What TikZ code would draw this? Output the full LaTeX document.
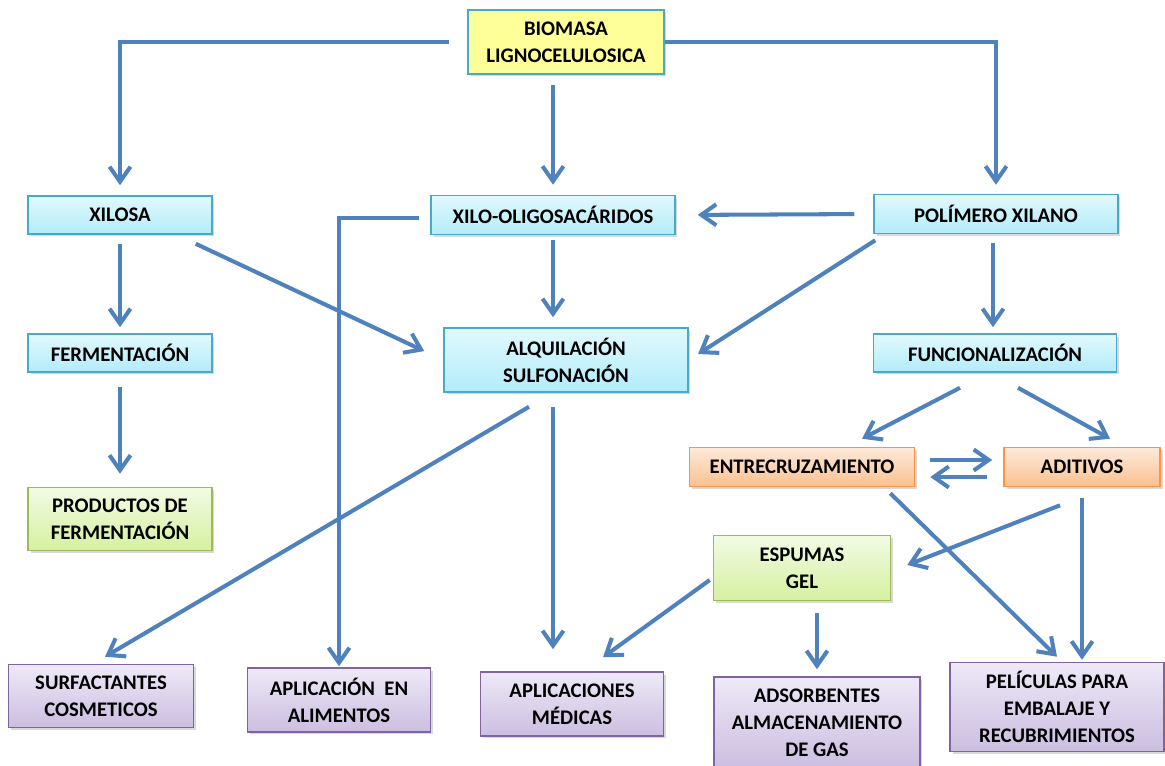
\documentclass[tikz,border=0pt]{standalone}
\usepackage{fontspec}
\setmainfont{Carlito}
\usepackage{tikz}
\usetikzlibrary{arrows.meta, calc, shadows}
\definecolor{arrowblue}{RGB}{79,129,189}
\definecolor{cyanline}{RGB}{70,170,200}
\definecolor{greenline}{RGB}{155,187,89}
\definecolor{orangeline}{RGB}{247,150,70}
\definecolor{purpleline}{RGB}{128,100,162}
\tikzstyle{block} = [rectangle, align=center, inner sep=0pt, line width=0.9pt,
    font=\bfseries\fontsize{11.8}{15.5}\selectfont, text=black,
    drop shadow={shadow xshift=0.05cm, shadow yshift=-0.05cm, opacity=0.3}]
\tikzstyle{rootblock} = [block, draw=cyanline, fill={rgb,255:red,255;green,255;blue,153}]
\tikzstyle{cyanblock} = [block, draw=cyanline, top color={rgb,255:red,225;green,249;blue,253},
    bottom color={rgb,255:red,178;green,236;blue,250}]
\tikzstyle{greenblock} = [block, draw=greenline, top color={rgb,255:red,242;green,251;blue,228},
    bottom color={rgb,255:red,214;green,240;blue,160}]
\tikzstyle{orangeblock} = [block, draw=orangeline, top color={rgb,255:red,253;green,234;blue,218},
    bottom color={rgb,255:red,250;green,192;blue,143}]
\tikzstyle{purpleblock} = [block, draw=purpleline, top color={rgb,255:red,238;green,233;blue,247},
    bottom color={rgb,255:red,204;green,190;blue,224}]
\tikzstyle{arrow} = [line width=2.3pt, draw=arrowblue,
    -{Straight Barb[length=0.3cm, width=0.42cm, line width=2.3pt]}]

\begin{document}
\begin{tikzpicture}[x=0.02cm, y=-0.02cm]
  \useasboundingbox (0,0) rectangle (1165,766);

  % Top
  \node[rootblock, minimum width=3.92cm, minimum height=1.28cm] (bio) at (566,42)
    {BIOMASA\\LIGNOCELULOSICA};

  % Second row
  \node[cyanblock, minimum width=3.68cm, minimum height=0.76cm] (xil) at (120,215) {XILOSA};
  \node[cyanblock, minimum width=4.88cm, minimum height=0.78cm] (xilo) at (553,215)
    {XILO-OLIGOSACÁRIDOS};
  \node[cyanblock, minimum width=4.88cm, minimum height=0.78cm] (pol) at (996,214)
    {POLÍMERO XILANO};

  % Third row
  \node[cyanblock, minimum width=3.68cm, minimum height=0.76cm] (ferm) at (120,353)
    {FERMENTACIÓN};
  \node[cyanblock, minimum width=4.88cm, minimum height=1.28cm] (alq) at (566,360)
    {ALQUILACIÓN\\SULFONACIÓN};
  \node[cyanblock, minimum width=4.86cm, minimum height=0.76cm] (func) at (995,353)
    {FUNCIONALIZACIÓN};

  % Intermediate
  \node[greenblock, minimum width=3.68cm, minimum height=1.26cm] (prod) at (120,519)
    {PRODUCTOS\ DE\\FERMENTACIÓN};
  \node[orangeblock, minimum width=4.5cm, minimum height=0.78cm] (entre) at (802,467)
    {ENTRECRUZAMIENTO};
  \node[orangeblock, minimum width=3.12cm, minimum height=0.78cm] (adit) at (1082,467)
    {ADITIVOS};
  \node[greenblock, minimum width=3.54cm, minimum height=1.3cm] (esp) at (802,568)
    {ESPUMAS\\GEL};

  % Applications
  \node[purpleblock, minimum width=3.7cm, minimum height=1.26cm] (surf) at (101,696)
    {SURFACTANTES\\COSMETICOS};
  \node[purpleblock, minimum width=3.66cm, minimum height=1.28cm] (ali) at (339,700)
    {APLICACIÓN\ \ EN\\ALIMENTOS};
  \node[purpleblock, minimum width=3.66cm, minimum height=1.28cm] (med) at (572,704)
    {APLICACIONES\\MÉDICAS};
  \node[purpleblock, minimum width=4.12cm, minimum height=1.82cm] (ads) at (817,722.5)
    {ADSORBENTES\\ALMACENAMIENTO\\DE GAS};
  \node[purpleblock, minimum width=4.28cm, minimum height=1.78cm] (pel) at (1057,707)
    {PELÍCULAS\ PARA\\EMBALAJE Y\\RECUBRIMIENTOS};

  % From biomass
  \draw[arrow, shorten <=0.36cm, shorten >=0.2cm](bio.west) -| (xil.north);
  \draw[arrow, shorten >=0.18cm](bio.east) -| (pol.north);
  \draw[arrow, shorten <=0.2cm, shorten >=0.2cm](xilo.north |- bio.south) -- (xilo.north);

  % Second row links
  \draw[arrow, shorten <=0.38cm, shorten >=0.44cm](pol.west) -- (xilo.east);
  \draw[arrow, shorten <=0.22cm, shorten >=0.02cm]($(xilo.west)+(0,3)$) -| (ali.north);
  \draw[arrow, shorten <=0.1cm, shorten >=0.2cm](xilo.south) -- (xilo.south |- alq.north);
  \draw[arrow, shorten >=0.42cm]($(xil.south east)+(-17,9)$) -- (alq.west);
  \draw[arrow, shorten >=0.22cm]($(pol.south west)+(2,6)$) -- (alq.east);
  \draw[arrow, shorten <=0.18cm, shorten >=0.12cm](xil.south) -- (ferm.north);
  \draw[arrow, shorten <=0.28cm, shorten >=0.26cm](ferm.south) -- (prod.north);
  \draw[arrow, shorten <=0.18cm, shorten >=0.12cm]($(pol.south)+(-3,0)$) -- ($(pol.south |- func.north)+(-3,0)$);

  % Functionalization
  \draw[arrow]($(func.south)+(-35,15)$) -- ($(entre.north)+(60,-8)$);
  \draw[arrow]($(func.south)+(23,15)$) -- ($(adit.north)+(28,-8)$);
  \draw[arrow]($(entre.east)+(15,-7)$) -- ($(adit.west)+(-11,-7)$);
  \draw[arrow]($(adit.west)+(-16,10)$) -- ($(entre.east)+(15,10)$);

  % Towards applications
  \draw[arrow]($(alq.south)+(-37,14)$) -- ($(surf.north)+(4,-7)$);
  \draw[arrow, shorten <=0.28cm, shorten >=0.44cm](alq.south -| xilo.south) -- (med.north -| xilo.south);
  \draw[arrow]($(entre.south east)+(-25,6)$) -- ($(pel.north)+(0,-5)$);
  \draw[arrow, shorten <=0.22cm, shorten >=0.04cm](adit.south) -- (adit.south |- pel.north);
  \draw[arrow]($(adit.south)+(-22,18)$) -- ($(esp.east)+(16,-3)$);
  \draw[arrow]($(esp.west)+(-3,12)$) -- ($(med.north)+(31,-14)$);
  \draw[arrow, shorten <=0.24cm, shorten >=0.14cm](ads.north |- esp.south) -- (ads.north);
\end{tikzpicture}
\end{document}
